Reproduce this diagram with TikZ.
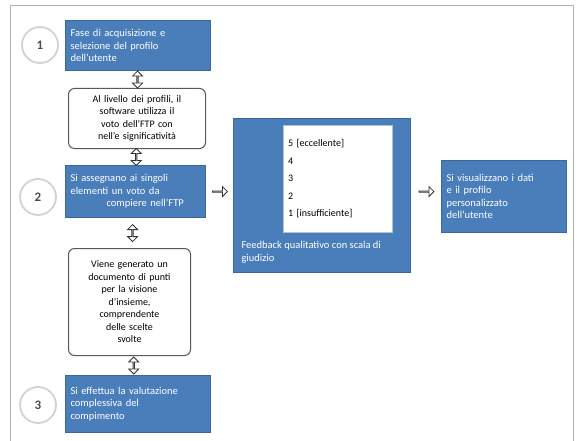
\documentclass[tikz,border=0pt]{standalone}
\usepackage{fontspec}
\setmainfont{Carlito}
\usepackage{xcolor}
\usetikzlibrary{positioning, calc, shapes.arrows}

\definecolor{boxblue}{HTML}{4A7EBB}
\definecolor{boxedge}{HTML}{3B679C}

\tikzset{
    bluebox/.style={draw=boxedge, line width=1.2pt, fill=boxblue, text=white,
        font=\fontsize{10.5}{12.5}\selectfont, align=left, inner sep=5pt,
        anchor=north west},
    notebox/.style={draw=gray!70!black, line width=1pt, rounded corners=6pt,
        fill=white, font=\fontsize{10}{12.5}\selectfont, align=center,
        inner sep=3pt, anchor=north west},
    stepnum/.style={circle, draw=gray!35, line width=1.8pt, fill=white,
        minimum size=36pt, text=gray!60!black, font=\fontsize{13}{15}\bfseries},
    updown/.style={double arrow, shape border rotate=90, draw=gray!40!black,
        fill=white, line width=0.8pt, minimum width=10pt, minimum height=17pt,
        double arrow head extend=2.5pt, inner sep=0pt},
    rightarrow/.style={single arrow, draw=gray!40!black, fill=white,
        line width=0.8pt, minimum width=10pt, minimum height=15pt,
        single arrow head extend=2.5pt, inner sep=0pt}
}

\begin{document}
\begin{tikzpicture}[x=1pt, y=-1pt]

    \useasboundingbox (0,0) rectangle (578,441);
    % Frame
    \draw[gray!60, line width=1pt] (10,441) -- (10,6) -- (573,6) -- (573,441);

    % --- LEFT: steps ---
    \node[bluebox, minimum width=145pt, minimum height=50pt, text width=135pt]
        (fase1) at (65,20) {Fase di acquisizione e\\selezione del profilo\\dell'utente};
    \node[notebox, minimum width=137pt, minimum height=60pt, text width=130pt]
        (nota1) at (68,88) {Al livello dei profili, il\\software utilizza il\\voto dell'FTP con\\nell'e significativit\`a};
    \node[bluebox, minimum width=140pt, minimum height=52pt, text width=130pt]
        (fase2) at (65,165) {Si assegnano ai singoli\\elementi un voto da\\\hspace*{36pt}compiere nell'FTP};
    \node[notebox, minimum width=122pt, minimum height=107pt, text width=115pt]
        (nota2) at (68,248) {Viene generato un\\documento di punti\\per la visione\\d'insieme,\\comprendente\\delle scelte\\svolte};
    \node[bluebox, minimum width=145pt, minimum height=57pt, text width=135pt]
        (fase3) at (65,375) {Si effettua la valutazione\\complessiva del\\compimento};

    % Numbers
    \node[stepnum] (num1) at (40,45) {1};
    \node[stepnum] (num2) at (38,197) {2};
    \node[stepnum] (num3) at (38,405) {3};

    % Up-down arrows
    \node[updown] (ud1) at ($(fase1.south)!0.5!(nota1.north)$) {};
    \node[updown] (ud2) at ($(nota1.south)!0.5!(fase2.north)$) {};
    \node[updown] (ud3) at ($(fase2.south)!0.5!(nota2.north)$) {};
    \node[updown] (ud4) at ($(nota2.south)!0.5!(fase3.north)$) {};

    % --- MIDDLE: scale ---
    \node[bluebox, minimum width=177pt, minimum height=154pt] (scala) at (233,118) {};
    \node[fill=white, draw=boxedge!40, minimum width=109pt, minimum height=107pt,
        anchor=north west, align=left, font=\fontsize{10}{17.5}\selectfont,
        text width=99pt] (lista) at (283,125)
        {5 [eccellente]\\4\\3\\2\\1 [insufficiente]};
    \node[text=white, anchor=north west, align=left,
        font=\fontsize{10.5}{13}\selectfont] (feedback) at (238,238)
        {Feedback qualitativo con scala di\\giudizio};

    % --- RIGHT: result ---
    \node[bluebox, minimum width=125pt, minimum height=72pt, text width=115pt]
        (esito) at (441,160) {Si visualizzano i dati\\e il profilo\\personalizzato\\dell'utente};

    % Right arrows
    \node[rightarrow] (ra1) at ($(fase2.east)!0.5!(scala.west |- fase2.east)$) {};
    \node[rightarrow] (ra2) at ($(scala.east |- fase2.east)!0.5!(esito.west |- fase2.east)$) {};

\end{tikzpicture}
\end{document}
